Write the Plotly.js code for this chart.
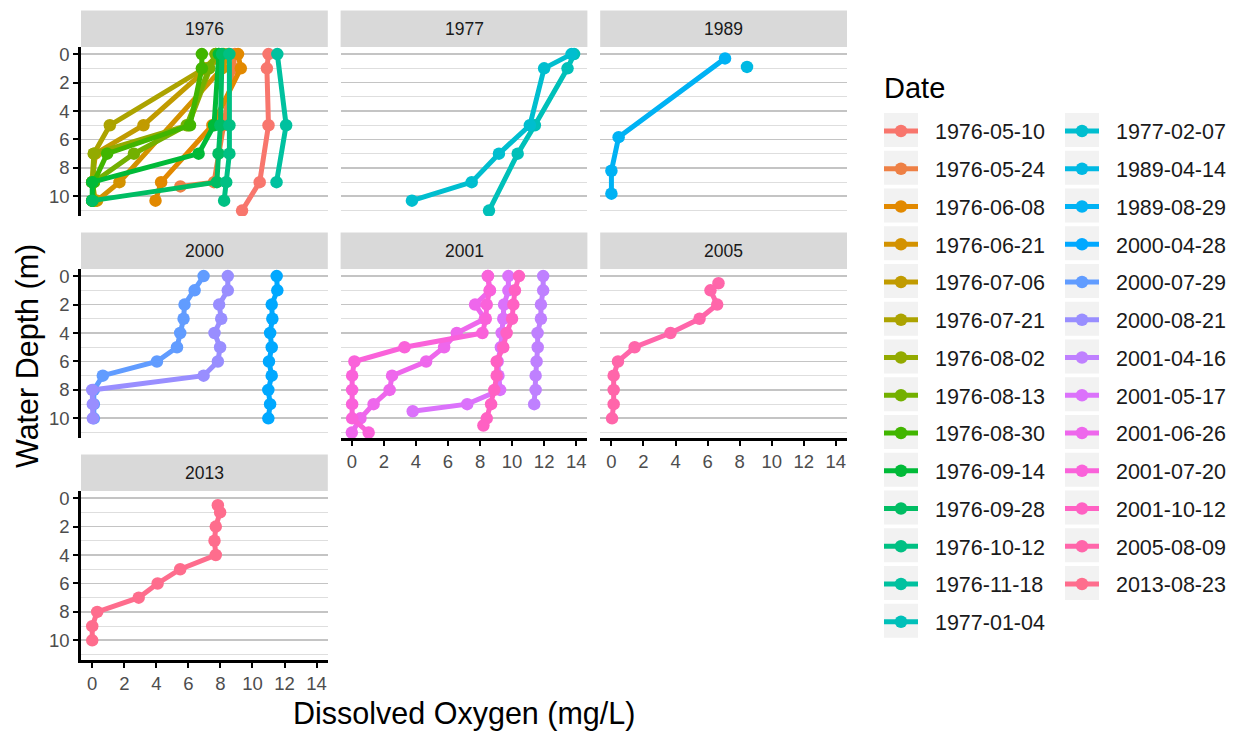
<!DOCTYPE html>
<html>
<head>
<meta charset="utf-8">
<script src="https://cdn.plot.ly/plotly-3.0.1.min.js"></script>
<style>
  html, body { margin: 0; padding: 0; background: #ffffff; }
  #chart { width: 1238px; height: 732px; }
</style>
</head>
<body>
<div id="chart"></div>
<script>
// ---------------- DATA ----------------
const dates = ['1976-05-10','1976-05-24','1976-06-08','1976-06-21','1976-07-06','1976-07-21',
  '1976-08-02','1976-08-13','1976-08-30','1976-09-14','1976-09-28','1976-10-12','1976-11-18',
  '1977-01-04','1977-02-07','1989-04-14','1989-08-29','2000-04-28','2000-07-29','2000-08-21',
  '2001-04-16','2001-05-17','2001-06-26','2001-07-20','2001-10-12','2005-08-09','2013-08-23'];

const years = ['1976','1977','1989','2000','2001','2005','2013'];

// water depth (m) of every sample, one list per date
const depths = [
  [0,1,5,9,11],
  [0,1,5,9,9.3],
  [0,1,5,9,10.3],
  [0,1,9,10.3],
  [0,1,5,7,9,10.3],
  [0,1,5,7,9,10.3],
  [0,5,7,9,10.3],
  [0,1,5,7,9,10.3],
  [0,1,5,7,9,10.3],
  [0,5,7,9,10.3],
  [0,5,7,9,10.3],
  [0,5,7,9,10.3],
  [0,5,9],
  [0,1,5,7,11],
  [0,1,5,7,9,10.3],
  [0.9],
  [0.3,5.84,8.2,9.81],
  [0,1,2,3,4,5,6,7,8,9,10],
  [0,1,2,3,4,5,6,7,8,9,10],
  [0,1,2,3,4,5,6,7,8,9,10],
  [0,1,2,3,4,5,6,7,8,9],
  [0,1,2,3,4,5,6,7,8,9,9.5],
  [0,1,2,3,4,5,6,7,8,9,10,11],
  [0,1,2,3,4,5,6,7,8,9,10,11],
  [0,1,2,3,4,5,6,7,8,9,10,10.5],
  [0.5,1,2,3,4,5,6,7,8,9,10],
  [0.5,1,2,3,4,5,6,7,8,9,10]
];

// dissolved oxygen (mg/L) matching the depths above
const oxygen = [
  [11.0,10.9,11.0,10.45,9.35],
  [8.9,8.8,8.2,7.6,5.5],
  [9.1,9.27,7.5,4.3,3.95],
  [8.5,8.1,1.7,0.3],
  [8.2,7.2,3.2,0.2,0.0,0.2],
  [7.9,7.0,1.1,0.1,0.0,0.1],
  [7.7,6.0,0.1,0.0,0.0],
  [7.7,7.3,5.9,2.6,0.1,0.0],
  [6.84,6.84,6.1,0.93,0.1,0.0],
  [7.9,7.6,6.64,0.0,0.0],
  [8.1,8.0,7.88,7.78,0.0],
  [8.56,8.56,8.56,8.36,8.23],
  [11.55,12.1,11.5],
  [13.87,13.46,11.42,10.35,8.56],
  [13.71,12.0,11.11,9.18,7.48,3.75],
  [8.46],
  [7.09,0.45,0.0,0.0],
  [11.51,11.55,11.2,11.24,11.1,11.2,11.03,11.2,10.99,11.1,10.99],
  [6.95,6.39,5.76,5.7,5.49,5.29,4.04,0.66,0.1,0.1,0.1],
  [8.46,8.46,7.92,8.05,7.63,7.98,7.84,6.95,0.0,0.04,0.04],
  [11.94,11.94,11.8,11.8,11.59,11.6,11.53,11.47,11.47,11.38],
  [9.77,9.77,9.5,9.45,9.35,9.3,9.1,9.15,9.25,7.2,3.8],
  [8.48,8.62,7.69,8.3,6.55,5.76,4.64,2.51,2.36,1.36,0.54,0.0],
  [8.5,8.6,8.42,8.36,8.15,3.29,0.16,0.02,0.02,0.02,0.02,1.05],
  [10.43,10.18,10.08,10.0,9.66,9.45,9.04,9.04,8.89,8.69,8.42,8.21],
  [6.68,6.18,6.6,5.5,3.69,1.45,0.41,0.14,0.14,0.14,0.04],
  [7.84,7.98,7.71,7.63,7.71,5.49,4.08,2.9,0.31,0.0,0.0]
];

const xTicks = [0,2,4,6,8,10,12,14];
const yTicks = [0,2,4,6,8,10];
const yMinor = [1,3,5,7,9,11];

// ---------------- STYLE / LAYOUT ----------------
const W = 1238, H = 732;
const FONT = 'Liberation Sans, Arial, Helvetica, sans-serif';

// ggplot2 default hue palette (hcl, c=100, l=65)
function hcl(h, c, l) {
  const hr = h * Math.PI / 180;
  const U = c * Math.cos(hr), V = c * Math.sin(hr);
  const Xn = 95.047, Yn = 100, Zn = 108.883;
  const un = 4 * Xn / (Xn + 15 * Yn + 3 * Zn), vn = 9 * Yn / (Xn + 15 * Yn + 3 * Zn);
  const Y = l > 8 ? Yn * Math.pow((l + 16) / 116, 3) : Yn * l / 903.3;
  const u = U / (13 * l) + un, v = V / (13 * l) + vn;
  const X = 9 * Y * u / (4 * v);
  const Z = -X / 3 - 5 * Y + 3 * Y / v;
  const x = X / 100, y = Y / 100, z = Z / 100;
  const r = 3.240479 * x - 1.537150 * y - 0.498535 * z;
  const g = -0.969256 * x + 1.875992 * y + 0.041556 * z;
  const b = 0.055648 * x - 0.204043 * y + 1.057311 * z;
  const gam = t => {
    t = t <= 0.0031308 ? 12.92 * t : 1.055 * Math.pow(t, 1 / 2.4) - 0.055;
    t = Math.min(1, Math.max(0, t));
    return Math.round(t * 255).toString(16).padStart(2, '0');
  };
  return '#' + gam(r) + gam(g) + gam(b);
}
const n = dates.length;
const colors = dates.map((d, i) => hcl(15 + 360 * i / n, 100, 65));

const colLeft = [81, 340.6, 600.2];
const colW = 246.8;
const rowTop = [47, 269, 491];
const rowH = 169;
const stripH = 36.5;
const panelCell = [[0,0],[1,0],[2,0],[0,1],[1,1],[2,1],[0,2]];
const bottomOfColumn = [false,false,false,false,true,true,true];

const layout = {
  width: W, height: H,
  margin: {l: 0, r: 0, t: 0, b: 0},
  paper_bgcolor: '#ffffff',
  plot_bgcolor: '#ffffff',
  font: {family: FONT, color: '#1A1A1A'},
  showlegend: true,
  shapes: [],
  annotations: []
};

years.forEach((yr, p) => {
  const [c, r] = panelCell[p];
  const s = p === 0 ? '' : String(p + 1);
  const l = colLeft[c], t = rowTop[r];
  const showX = bottomOfColumn[p];
  const showY = c === 0;
  layout['xaxis' + s] = {
    domain: [l / W, (l + colW) / W],
    anchor: 'y' + s,
    range: [-0.7, 14.7],
    tickmode: 'array', tickvals: xTicks,
    showgrid: false, zeroline: false,
    showticklabels: showX,
    ticks: showX ? 'outside' : '',
    ticklen: 5, tickwidth: 2, tickcolor: '#000000',
    showline: showX, linecolor: '#000000', linewidth: 2.8,
    tickfont: {size: 18.5, color: '#4D4D4D', family: FONT},
    fixedrange: true
  };
  layout['yaxis' + s] = {
    domain: [1 - (t + rowH) / H, 1 - t / H],
    anchor: 'x' + s,
    range: [11.38, -0.5],
    tickmode: 'array', tickvals: yTicks,
    showgrid: true, gridcolor: '#C4C4C4', gridwidth: 1.8,
    minor: {tickmode: 'array', tickvals: yMinor, showgrid: true, gridcolor: '#DEDEDE', gridwidth: 1.2, ticks: ''},
    zeroline: false,
    showticklabels: showY,
    ticks: showY ? 'outside' : '',
    ticklen: 5, tickwidth: 2, tickcolor: '#000000',
    showline: showY, linecolor: '#000000', linewidth: 2.8,
    tickfont: {size: 18.5, color: '#4D4D4D', family: FONT},
    fixedrange: true
  };
  layout.shapes.push({
    type: 'rect', xref: 'paper', yref: 'paper', layer: 'below',
    x0: l / W, x1: (l + colW) / W,
    y0: 1 - t / H, y1: 1 - (t - stripH) / H,
    fillcolor: '#D9D9D9', line: {width: 0}
  });
  layout.annotations.push({
    xref: 'paper', yref: 'paper', showarrow: false,
    x: (l + colW / 2) / W, y: 1 - (t - stripH / 2) / H,
    xanchor: 'center', yanchor: 'middle',
    text: yr, font: {size: 17.5, color: '#1A1A1A', family: FONT}
  });
});

// axis titles
layout.annotations.push({
  xref: 'paper', yref: 'paper', showarrow: false,
  x: 464 / W, y: 1 - 713 / H, xanchor: 'center', yanchor: 'middle',
  text: 'Dissolved Oxygen (mg/L)', font: {size: 30.5, color: '#000000', family: FONT}
});
layout.annotations.push({
  xref: 'paper', yref: 'paper', showarrow: false,
  x: 27 / W, y: 1 - 356 / H, xanchor: 'center', yanchor: 'middle', textangle: -90,
  text: 'Water Depth (m)', font: {size: 30.5, color: '#000000', family: FONT}
});
// legend title
layout.annotations.push({
  xref: 'paper', yref: 'paper', showarrow: false,
  x: 882 / W, y: 1 - 88 / H, xanchor: 'left', yanchor: 'middle',
  text: 'Date', font: {size: 29, color: '#000000', family: FONT}
});

// legends (two columns)
const legFont = 21.5;
const rowStep = 37.75;
const legGap = rowStep - (1.3 * legFont + 3);
const keyCenterX = [901, 1082];
const firstRowY = 130;
const rowsCol1 = 14;
[['legend', 0], ['legend2', 1]].forEach(([name, c]) => {
  layout[name] = {
    x: (keyCenterX[c] - 22) / W, xanchor: 'left',
    y: 1 - (firstRowY - 19.5) / H, yanchor: 'top',
    bgcolor: 'rgba(0,0,0,0)', borderwidth: 0,
    font: {size: legFont, color: '#1A1A1A', family: FONT},
    tracegroupgap: legGap, itemwidth: 34,
    itemclick: false, itemdoubleclick: false
  };
});
// grey key backgrounds
dates.forEach((d, i) => {
  const c = i < rowsCol1 ? 0 : 1;
  const r = c === 0 ? i : i - rowsCol1;
  const cx = keyCenterX[c], cy = firstRowY + rowStep * r;
  layout.shapes.push({
    type: 'rect', xref: 'paper', yref: 'paper', layer: 'below',
    x0: (cx - 17) / W, x1: (cx + 17) / W,
    y0: 1 - (cy + 17) / H, y1: 1 - (cy - 17) / H,
    fillcolor: '#F2F2F2', line: {width: 0}
  });
});

// ---------------- TRACES ----------------
const traces = dates.map((d, i) => {
  const p = years.indexOf(d.slice(0, 4));
  const s = p === 0 ? '' : String(p + 1);
  return {
    type: 'scatter', mode: 'lines+markers',
    x: oxygen[i], y: depths[i],
    xaxis: 'x' + s, yaxis: 'y' + s,
    name: '\u00A0\u00A0' + d,
    legend: i < rowsCol1 ? 'legend' : 'legend2',
    legendgroup: d,
    line: {color: colors[i], width: 5},
    marker: {color: colors[i], size: 12.5},
    hovertemplate: d + '<br>DO %{x} mg/L<br>depth %{y} m<extra></extra>'
  };
});

Plotly.newPlot('chart', traces, layout, {staticPlot: true, displayModeBar: false});
</script>
</body>
</html>
